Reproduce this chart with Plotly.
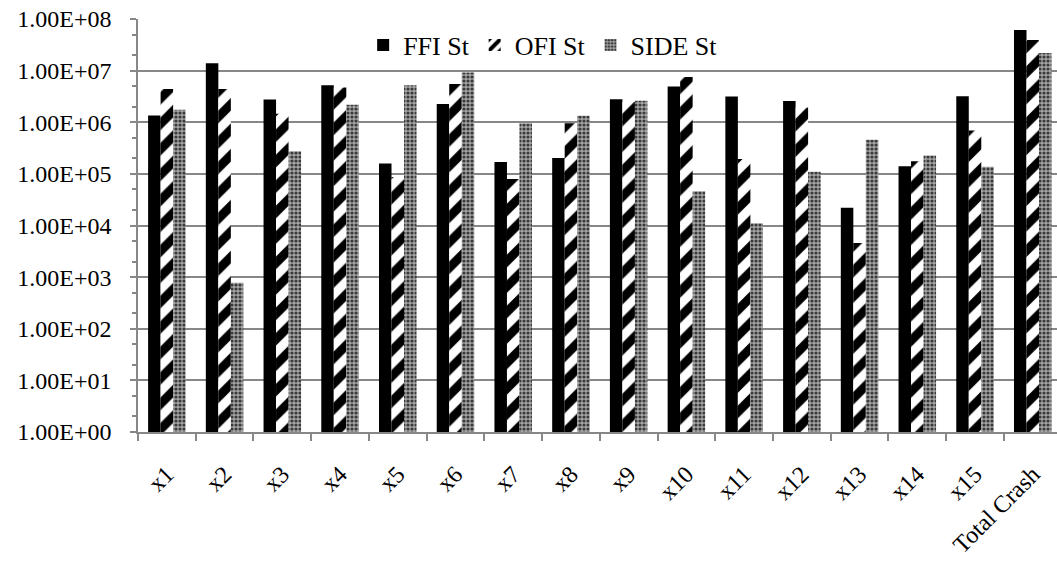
import plotly.graph_objects as go

categories = ["x1", "x2", "x3", "x4", "x5", "x6", "x7", "x8", "x9", "x10",
              "x11", "x12", "x13", "x14", "x15", "Total Crash"]
ffi_st = [1.35e6, 1.39e7, 2.76e6, 5.2e6, 1.58e5, 2.25e6, 1.7e5, 2.03e5, 2.8e6, 4.9e6,
          3.15e6, 2.57e6, 2.2e4, 1.4e5, 3.2e6, 6.1e7]
ofi_st = [4.4e6, 4.4e6, 1.46e6, 4.7e6, 8.7e4, 5.5e6, 8.0e4, 9.6e5, 2.5e6, 7.5e6,
          1.95e5, 1.93e6, 4.6e3, 1.75e5, 6.9e5, 3.9e7]
side_st = [1.74e6, 7.8e2, 2.73e5, 2.18e6, 5.2e6, 9.2e6, 9.6e5, 1.34e6, 2.6e6, 4.6e4,
           1.1e4, 1.1e5, 4.6e5, 2.28e5, 1.38e5, 2.2e7]
ytick_vals = [1e0, 1e1, 1e2, 1e3, 1e4, 1e5, 1e6, 1e7, 1e8]
ytick_text = ["1.00E+00", "1.00E+01", "1.00E+02", "1.00E+03", "1.00E+04",
              "1.00E+05", "1.00E+06", "1.00E+07", "1.00E+08"]

FONT = "Liberation Serif, Times New Roman, serif"
GRID = "#878787"

fig = go.Figure()
fig.add_trace(go.Bar(name="FFI St", x=categories, y=ffi_st,
                     marker=dict(color="black", line=dict(width=0))))
fig.add_trace(go.Bar(name="OFI St", x=categories, y=ofi_st,
                     marker=dict(color="white", line=dict(width=0),
                                 pattern=dict(shape="/", fgcolor="#000000", bgcolor="#ffffff",
                                              fgopacity=1, size=18, solidity=0.5))))
fig.add_trace(go.Bar(name="SIDE St", x=categories, y=side_st,
                     marker=dict(color="#7a7a7a", line=dict(width=0),
                                 pattern=dict(shape=".", fgcolor="#3a3a3a", bgcolor="#a6a6a6",
                                              fgopacity=1, size=4, solidity=0.5))))

fig.update_layout(
    width=1057, height=561,
    margin=dict(l=138, r=0, t=19, b=129),
    paper_bgcolor="white", plot_bgcolor="white",
    barmode="group", bargap=0.35, bargroupgap=0,
    font=dict(family=FONT, size=24, color="black"),
    legend=dict(orientation="h", x=0.245, xanchor="left", y=0.937, yanchor="middle",
                bgcolor="rgba(0,0,0,0)", font=dict(family=FONT, size=26),
                itemwidth=30, traceorder="normal"),
    xaxis=dict(range=[-0.5, 15.42], tickangle=-45, showline=True, linecolor=GRID,
               linewidth=1.5, ticks="outside", tickson="boundaries", ticklen=7,
               tickcolor=GRID, tickwidth=1.5, showgrid=False,
               ticklabelstandoff=17,
               tickfont=dict(family=FONT, size=24)),
    yaxis=dict(type="log", range=[0, 8], tickvals=ytick_vals, ticktext=ytick_text,
               showline=True, linecolor=GRID, linewidth=1.5, ticks="outside",
               ticklen=6, tickcolor=GRID, tickwidth=1.5,
               showgrid=True, gridcolor=GRID, gridwidth=1.5,
               minor=dict(ticks="outside", ticklen=4, tickcolor=GRID, showgrid=False),
               ticklabelstandoff=14, zeroline=False,
               tickfont=dict(family=FONT, size=24)),
)

fig.write_html("out.html")
